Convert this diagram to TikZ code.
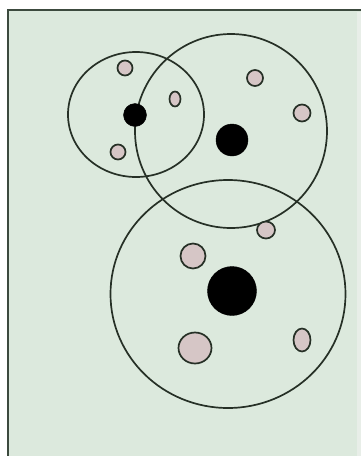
\documentclass[tikz,border=0pt]{standalone}
\usetikzlibrary{shapes.geometric}
\definecolor{bg}{HTML}{DCE9DD}
\definecolor{frame}{HTML}{3C4A3E}
\definecolor{ring}{HTML}{263026}
\definecolor{grain}{HTML}{D6C6C6}
\definecolor{edge}{HTML}{E8EEE8}
\begin{document}
\begin{tikzpicture}[x=1pt,y=-1pt,
  big/.style={ellipse,draw=ring,line width=1.7pt,inner sep=0pt,fill=none},
  core/.style={circle,fill=black,draw=black,inner sep=0pt},
  grainst/.style={ellipse,draw=ring,line width=1.7pt,fill=grain,inner sep=0pt}]
\useasboundingbox (0,0) rectangle (361,456);
\fill[white] (0,0) rectangle (361,456);
\fill[bg] (8,9) rectangle (361,456);
\fill[edge] (357,12) rectangle (361,456);
\draw[frame,line width=2.5pt] (8.2,456) -- (8.2,10.2) -- (361,10.2);
% large rings
\node[big,minimum width=136pt,minimum height=125pt] (c1) at (136,114.5) {};
\node[big,minimum width=192pt,minimum height=194pt] (c2) at (231,131) {};
\node[big,minimum width=235pt,minimum height=228pt] (c3) at (228,294) {};
% cores
\node[core,minimum size=23pt] (k1) at (135,115) {};
\node[core,minimum size=32pt] (k2) at (232,140) {};
\node[core,minimum size=49pt] (k3) at (232,291) {};
% grains
\node[grainst,minimum width=15pt,minimum height=15pt] (g1) at (125,68) {};
\node[grainst,minimum width=11pt,minimum height=15pt] (g2) at (175,99) {};
\node[grainst,minimum width=15pt,minimum height=15pt] (g3) at (118,152) {};
\node[grainst,minimum width=16pt,minimum height=16pt] (g4) at (255,78) {};
\node[grainst,minimum width=17pt,minimum height=17pt] (g5) at (302,113) {};
\node[grainst,minimum width=18pt,minimum height=17pt] (g6) at (266,230) {};
\node[grainst,minimum width=25pt,minimum height=25pt] (g7) at (193,256) {};
\node[grainst,minimum width=33pt,minimum height=31pt] (g8) at (195,348) {};
\node[grainst,minimum width=17pt,minimum height=23pt] (g9) at (302,340) {};
\end{tikzpicture}
\end{document}
